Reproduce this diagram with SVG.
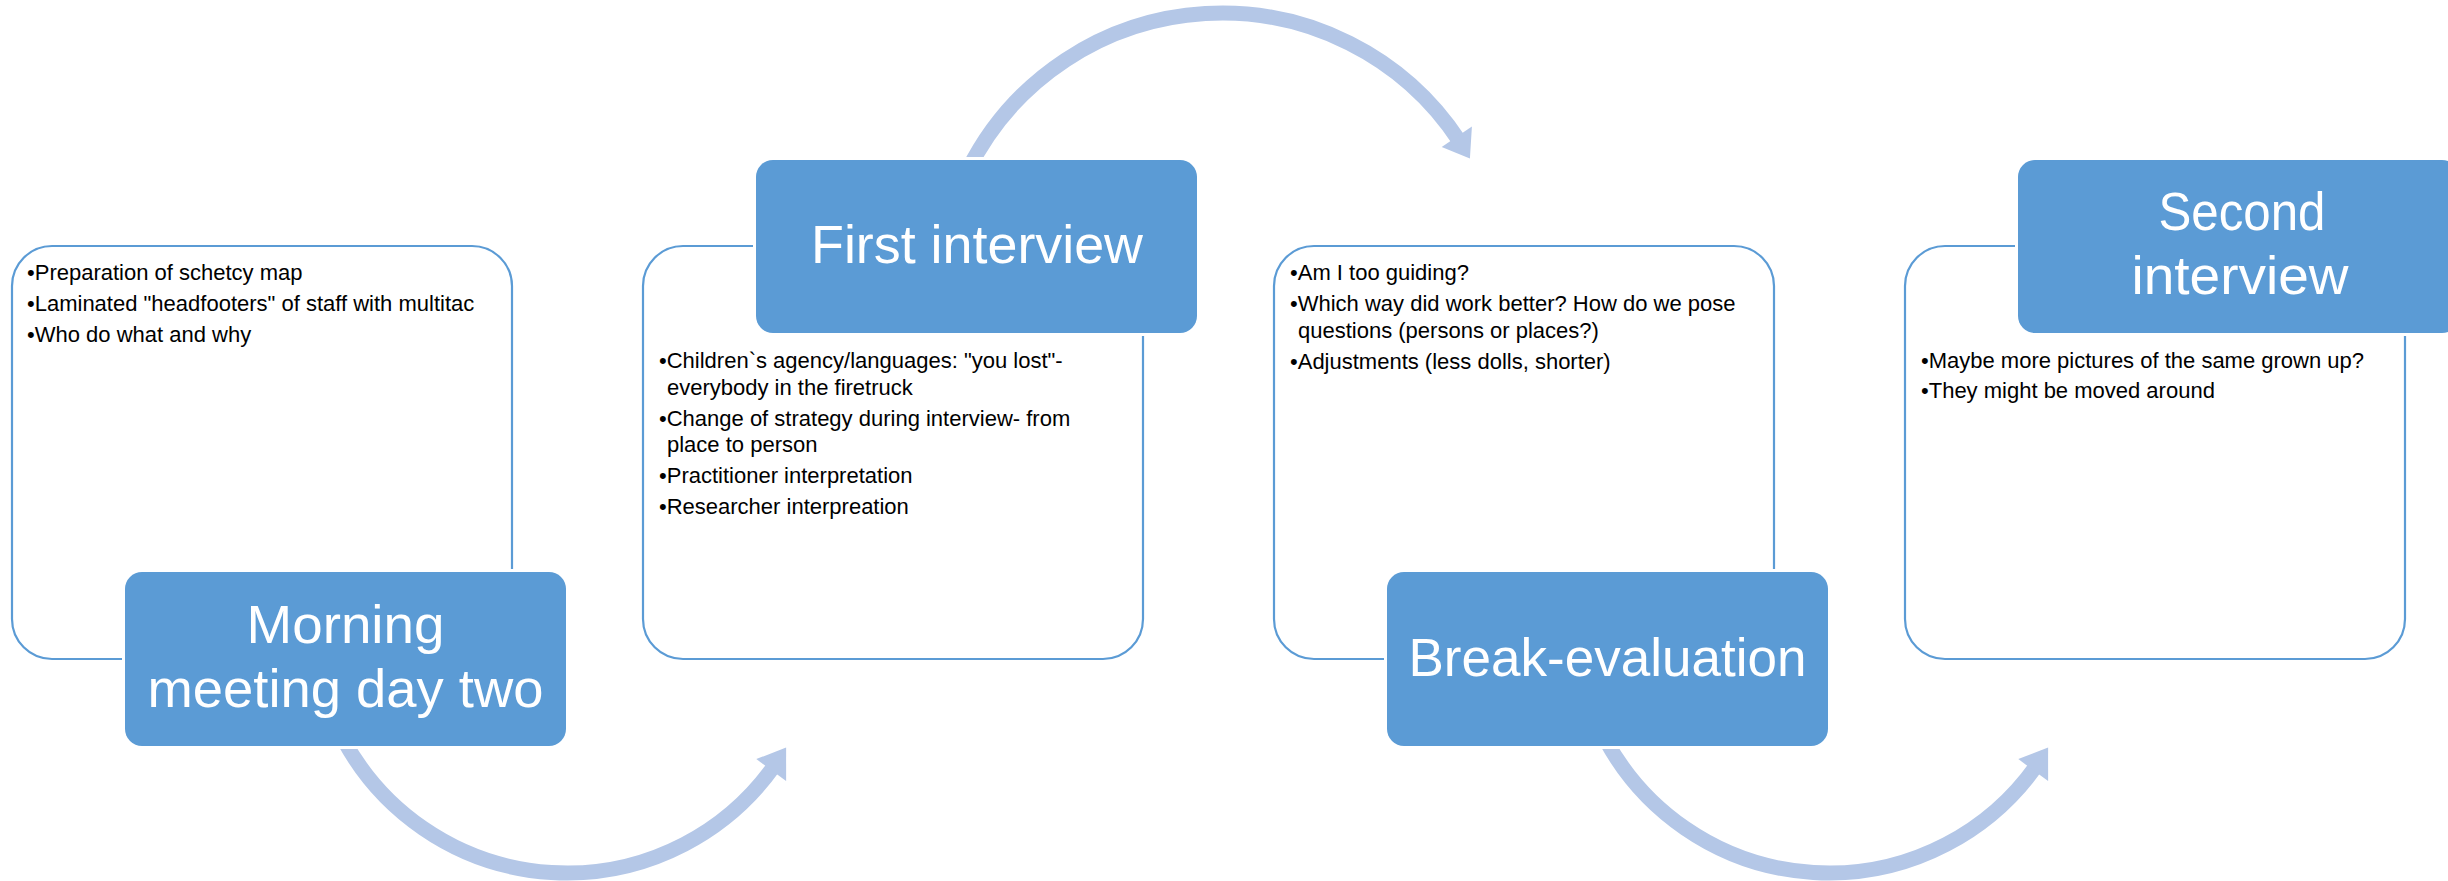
<svg xmlns="http://www.w3.org/2000/svg" width="2448" height="881" viewBox="0 0 2448 881">
<style>
.card{fill:#FFFFFF;stroke:#5B9BD5;stroke-width:2.2}
.head{fill:#5B9BD5;stroke:#FFFFFF;stroke-width:6;paint-order:stroke}
.bul{font-family:"Liberation Sans",Arial,sans-serif;font-size:22px;fill:#000000}
.ttl{font-family:"Liberation Sans",Arial,sans-serif;font-size:54px;fill:#FFFFFF;text-anchor:middle}
.arc{fill:none;stroke:#B4C7E7;stroke-width:15;stroke-linecap:butt}
.tip{fill:#B4C7E7}
</style>
<rect width="2448" height="881" fill="#FFFFFF"/>
<g id="connectors">
<path class="arc" d="M 343.7 740 A 254 254 0 0 0 773.8 766.5"/>
<polygon class="tip" points="756.3,759.1 786.1,781.1 786.1,747.5"/>
<path class="arc" d="M 968 170 A 284 284 0 0 1 1459.4 141.1"/>
<polygon class="tip" points="1441.7,147.1 1471.9,126.5 1469.9,158.4"/>
<path class="arc" d="M 1605.7 740 A 254 254 0 0 0 2035.8 766.5"/>
<polygon class="tip" points="2018.3,759.1 2048.1,781.1 2048.1,747.5"/>
</g>
<g id="node-morning">
<rect class="card" x="12" y="246" width="500" height="413" rx="40"/>
<text class="bul" x="27" y="280">•Preparation of schetcy map</text>
<text class="bul" x="27" y="311">•Laminated "headfooters" of staff with multitac</text>
<text class="bul" x="27" y="342">•Who do what and why</text>
<rect class="head" x="125" y="572" width="441" height="174" rx="17"/>
<text class="ttl" x="345.5" y="643" textLength="198" lengthAdjust="spacingAndGlyphs">Morning</text>
<text class="ttl" x="345.5" y="707" textLength="396" lengthAdjust="spacingAndGlyphs">meeting day two</text>
</g>
<g id="node-first">
<rect class="card" x="643" y="246" width="500" height="413" rx="40"/>
<text class="bul" x="659" y="368">•Children`s agency/languages: "you lost"-</text>
<text class="bul" x="667" y="394.5">everybody in the firetruck</text>
<text class="bul" x="659" y="425.5">•Change of strategy during interview- from</text>
<text class="bul" x="667" y="452">place to person</text>
<text class="bul" x="659" y="483">•Practitioner interpretation</text>
<text class="bul" x="659" y="514">•Researcher interpreation</text>
<rect class="head" x="756" y="160" width="441" height="173" rx="17"/>
<text class="ttl" x="977" y="263" textLength="332" lengthAdjust="spacingAndGlyphs">First interview</text>
</g>
<g id="node-break">
<rect class="card" x="1274" y="246" width="500" height="413" rx="40"/>
<text class="bul" x="1290" y="280">•Am I too guiding?</text>
<text class="bul" x="1290" y="311">•Which way did work better? How do we pose</text>
<text class="bul" x="1298" y="337.5">questions (persons or places?)</text>
<text class="bul" x="1290" y="368.5">•Adjustments (less dolls, shorter)</text>
<rect class="head" x="1387" y="572" width="441" height="174" rx="17"/>
<text class="ttl" x="1607.5" y="676" textLength="398" lengthAdjust="spacingAndGlyphs">Break-evaluation</text>
</g>
<g id="node-second">
<rect class="card" x="1905" y="246" width="500" height="413" rx="40"/>
<text class="bul" x="1921" y="367.5">•Maybe more pictures of the same grown up?</text>
<text class="bul" x="1921" y="398">•They might be moved around</text>
<rect class="head" x="2018" y="160" width="441" height="173" rx="17"/>
<text class="ttl" x="2242" y="230" textLength="167" lengthAdjust="spacingAndGlyphs">Second</text>
<text class="ttl" x="2240" y="294" textLength="217" lengthAdjust="spacingAndGlyphs">interview</text>
</g>
</svg>
